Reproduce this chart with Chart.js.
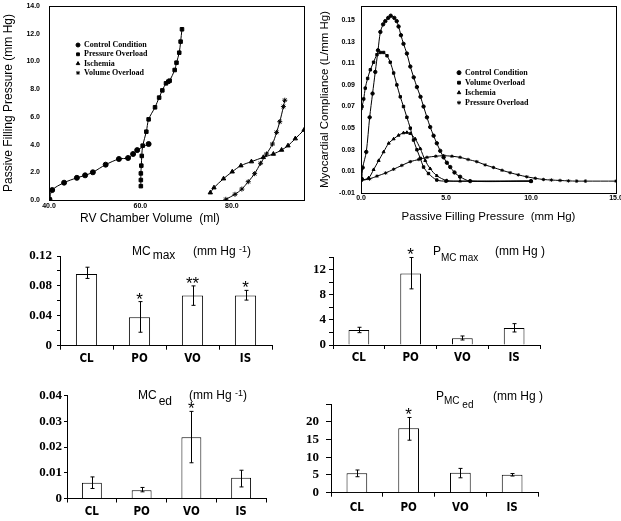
<!DOCTYPE html>
<html>
<head>
<meta charset="utf-8">
<script src="https://cdn.jsdelivr.net/npm/chart.js"></script>
<style>
  body { margin: 0; background: #fff; width: 621px; height: 521px; position: relative; overflow: hidden; font-family: "Liberation Sans", Arial, sans-serif; }
  canvas { position: absolute; }
  .lbl { position: absolute; font-size: 12px; line-height: 14px; white-space: pre; color: #000; }
  .lbl span { position: relative; }
</style>
</head>
<body>
<canvas id="pvChart" width="310" height="232" style="left:0;top:0"></canvas>
<canvas id="mcChart" width="311" height="232" style="left:310px;top:0"></canvas>
<canvas id="mcMaxChart" width="300" height="144" style="left:0;top:236px"></canvas>
<canvas id="pmcMaxChart" width="311" height="144" style="left:310px;top:236px"></canvas>
<canvas id="mcEdChart" width="298" height="136" style="left:0;top:385px"></canvas>
<canvas id="pmcEdChart" width="323" height="136" style="left:298px;top:385px"></canvas>

<div class="lbl" style="left:80px;top:211px">RV Chamber Volume  (ml)</div>

<div class="lbl" style="left:132px;top:244px">MC<span style="top:4px;margin-left:2px">max</span></div>
<div class="lbl" style="left:193px;top:244px">(mm Hg <span style="font-size:9px;top:-3px">-1</span>)</div>

<div class="lbl" style="left:433px;top:244px">P<span style="font-size:10px;top:6px">MC max</span></div>
<div class="lbl" style="left:495px;top:244px">(mm Hg )</div>

<div class="lbl" style="left:138px;top:388px">MC<span style="top:6px;margin-left:2px">ed</span></div>
<div class="lbl" style="left:189px;top:388px">(mm Hg <span style="font-size:9px;top:-3px">-1</span>)</div>

<div class="lbl" style="left:436px;top:389px">P<span style="font-size:10px;top:4px">MC <span style="top:4px">ed</span></span></div>
<div class="lbl" style="left:493px;top:389px">(mm Hg )</div>

<script>
// ---- top left: RV pressure-volume points [volume ml, pressure mm Hg]
const pvControl = [[40.1,0.05],[40.7,0.72],[43.3,1.25],[46.1,1.6],[47.9,1.78],[49.6,2.0],[52.4,2.55],[55.3,2.96],[57.3,3.03],[58.4,3.32],[59.3,3.6],[61.8,4.04]];
const pvPressure = [[60.1,1.0],[60.1,1.44],[60.1,1.92],[60.2,2.48],[60.3,3.18],[60.5,3.92],[61.3,4.93],[61.8,5.82],[63.2,6.69],[64.1,7.39],[64.8,7.91],[65.6,8.42],[66.1,8.54],[66.4,8.61],[67.5,9.38],[67.9,9.91],[68.5,10.63],[68.8,11.43],[69.1,12.32]];
const pvIschemia = [[75.3,0.53],[76.1,0.89],[78.2,1.54],[80.1,2.04],[82.0,2.48],[84.3,2.77],[86.9,3.08],[89.1,3.32],[90.9,3.61],[92.3,3.92],[93.9,4.43],[95.8,5.05]];
const pvVolume = [[78.7,0.05],[80.7,0.41],[82.2,0.79],[83.6,1.32],[85.0,1.9],[86.3,2.65],[87.6,3.32],[88.9,4.04],[89.8,4.88],[90.5,5.65],[91.3,6.74],[91.6,7.2]];
const pvXTicks = [40, 60, 80];
const pvYTicks = [0, 2, 4, 6, 8, 10, 12, 14];

// ---- top right: myocardial compliance vs passive filling pressure [mm Hg, L/mm Hg]
const mcControl = [[0.05,0.003],[0.1,0.0135],[0.31,0.028],[0.51,0.06],[0.68,0.082],[0.84,0.102],[1.0,0.122],[1.14,0.139],[1.3,0.146],[1.43,0.149],[1.6,0.152],[1.75,0.154],[1.96,0.152],[2.1,0.149],[2.21,0.144],[2.35,0.136],[2.5,0.128],[2.7,0.119],[2.9,0.107],[3.1,0.097],[3.29,0.088],[3.5,0.079],[3.68,0.07],[3.88,0.06],[4.07,0.051],[4.27,0.043],[4.46,0.036],[4.66,0.029],[4.86,0.023],[5.05,0.018],[5.25,0.014],[5.5,0.009],[5.83,0.005],[6.42,0.001],[10,0.001]];
const mcVolume = [[0.0,0.068],[0.06,0.07],[0.16,0.077],[0.25,0.087],[0.39,0.096],[0.55,0.104],[0.74,0.111],[0.94,0.118],[1.14,0.12],[1.33,0.12],[1.53,0.117],[1.72,0.111],[1.92,0.101],[2.11,0.09],[2.31,0.079],[2.5,0.07],[2.7,0.06],[2.9,0.05],[3.09,0.039],[3.29,0.03],[3.49,0.022],[3.68,0.014],[3.97,0.008],[4.46,0.002],[5.0,0.001],[10,0.001]];
const mcIschemia = [[0.0,0.0016],[0.45,0.004],[0.74,0.0116],[1.04,0.02],[1.33,0.028],[1.63,0.036],[1.92,0.04],[2.21,0.0434],[2.5,0.0456],[2.7,0.046],[2.9,0.045],[3.19,0.04],[3.49,0.031],[3.78,0.02],[4.07,0.0125],[4.46,0.006],[5.05,0.0015],[5.83,0.001],[10,0.001]];
const mcPressure = [[0.0,0.0016],[0.5,0.003],[0.94,0.0056],[1.45,0.0085],[1.92,0.012],[2.4,0.0155],[2.9,0.019],[3.4,0.021],[3.88,0.023],[4.4,0.024],[4.86,0.0245],[5.35,0.024],[5.83,0.023],[6.3,0.021],[6.81,0.019],[7.3,0.016],[7.79,0.0136],[8.3,0.011],[8.77,0.0088],[9.25,0.0068],[9.75,0.005],[10.25,0.0036],[10.73,0.0025],[11.2,0.002],[11.71,0.0016],[12.2,0.0012],[12.69,0.001],[13.2,0.001],[15,0.001]];
const mcXTicks = [0, 5, 10, 15];
const mcYTicks = [-0.01, 0.01, 0.03, 0.05, 0.07, 0.09, 0.11, 0.13, 0.15];

// ---- bar panels
const groups = ['CL', 'PO', 'VO', 'IS'];

const mcMax = [0.096, 0.038, 0.067, 0.067];
const mcMaxLow = [0.090, 0.018, 0.054, 0.061];
const mcMaxHigh = [0.105, 0.059, 0.080, 0.074];
const mcMaxStars = ['', '*', '**', '*'];
const mcMaxTicks = [0, 0.02, 0.04, 0.06, 0.08, 0.10, 0.12];
const mcMaxLabels = ['0', '', '0.04', '', '0.08', '', '0.12'];

const pmcMax = [2.4, 11.4, 1.07, 2.72];
const pmcMaxLow = [1.97, 8.96, 0.8, 2.08];
const pmcMaxHigh = [2.83, 13.97, 1.44, 3.41];
const pmcMaxStars = ['', '*', '', ''];
const pmcMaxTicks = [0, 2, 4, 6, 8, 10, 12, 14];
const pmcMaxLabels = ['0', '', '4', '', '8', '', '12', ''];

const mcEd = [0.0061, 0.0032, 0.0238, 0.0081];
const mcEdLow = [0.0039, 0.0026, 0.0139, 0.0045];
const mcEdHigh = [0.0084, 0.0043, 0.0339, 0.011];
const mcEdStars = ['', '', '*', ''];
const mcEdTicks = [0, 0.01, 0.02, 0.03, 0.04];
const mcEdLabels = ['0', '0.01', '0.02', '0.03', '0.04'];

const pmcEd = [5.45, 18.2, 5.63, 5.07];
const pmcEdLow = [4.5, 14.8, 4.2, 4.7];
const pmcEdHigh = [6.4, 21.2, 6.85, 5.4];
const pmcEdStars = ['', '*', '', ''];
const pmcEdTicks = [0, 5, 10, 15, 20, 25];
const pmcEdLabels = ['0', '5', '10', '15', '20', ''];

Chart.defaults.animation = false;
Chart.defaults.color = '#000';
Chart.defaults.font.family = '"Liberation Sans", Arial, sans-serif';
Chart.defaults.plugins.legend.display = false;
Chart.defaults.plugins.tooltip.enabled = false;

const SANS = '"Liberation Sans", Arial, sans-serif';
const SERIF = '"Liberation Serif", "Times New Roman", serif';
const tinyFont = { family: SANS, size: 7, weight: 'bold' };
const numFont = { family: SERIF, size: 13, weight: 'bold' };
const catFont = { family: '"DejaVu Sans Condensed", "DejaVu Sans", sans-serif', size: 11.5, weight: 'bold' };

function fixedScale(size, horizontal) {
    return s => {
        if (horizontal) { s.height = size; s.paddingLeft = 0; s.paddingRight = 0; }
        else { s.width = size; s.paddingTop = 0; s.paddingBottom = 0; }
    };
}

function setTicks(values) {
    return s => { s.ticks = values.map(v => ({ value: v })); };
}

function drawMark(ctx, style, r, x, y) {
    if (Chart.helpers && Chart.helpers.drawPoint) {
        Chart.helpers.drawPoint(ctx, { pointStyle: style, radius: r, rotation: 0, borderWidth: 1 }, x, y);
    } else {
        ctx.beginPath(); ctx.arc(x, y, r, 0, Math.PI * 2); ctx.fill();
    }
}

// box round the plot area of the curve panels
const frameBox = {
    id: 'frameBox',
    afterDraw(chart) {
        const a = chart.chartArea, ctx = chart.ctx;
        ctx.save();
        ctx.strokeStyle = '#000';
        ctx.lineWidth = 1;
        ctx.strokeRect(Math.round(a.left) + 0.5, Math.round(a.top) + 0.5, Math.round(a.width), Math.round(a.height));
        ctx.restore();
    }
};

// legend inside the plot, one row per dataset
const pointLegend = {
    id: 'pointLegend',
    afterDatasetsDraw(chart, args, opts) {
        const ctx = chart.ctx;
        ctx.save();
        ctx.fillStyle = '#000';
        ctx.strokeStyle = '#000';
        ctx.font = 'bold 8px ' + SERIF;
        ctx.textBaseline = 'middle';
        chart.data.datasets.forEach((ds, i) => {
            const y = opts.y + i * opts.gap;
            drawMark(ctx, ds.pointStyle, 2, opts.x, y);
            ctx.fillText(ds.label, opts.x + 6, y);
        });
        ctx.restore();
    }
};

// error bars and significance stars on the bar panels
const errorBars = {
    id: 'errorBars',
    afterDatasetsDraw(chart, args, opts) {
        if (!opts.low) return;
        const ctx = chart.ctx, y = chart.scales.y;
        ctx.save();
        ctx.strokeStyle = '#000';
        ctx.fillStyle = '#000';
        ctx.lineWidth = 1;
        chart.getDatasetMeta(0).data.forEach((bar, i) => {
            const x = Math.round(bar.x) + 0.5;
            const top = y.getPixelForValue(opts.high[i]);
            const bot = y.getPixelForValue(opts.low[i]);
            ctx.beginPath();
            ctx.moveTo(x, top); ctx.lineTo(x, bot);
            ctx.moveTo(x - 2, top); ctx.lineTo(x + 2, top);
            ctx.moveTo(x - 2, bot); ctx.lineTo(x + 2, bot);
            ctx.stroke();
            if (opts.stars[i]) {
                ctx.font = '17px ' + SANS;
                ctx.textAlign = 'center';
                ctx.textBaseline = 'alphabetic';
                ctx.fillText(opts.stars[i], bar.x, top + 3);
            }
        });
        ctx.restore();
    }
};

function curveSet(label, points, style, r) {
    return {
        label,
        data: points.map(p => ({ x: p[0], y: p[1] })),
        showLine: true,
        tension: 0.3,
        borderColor: '#000',
        borderWidth: 1,
        backgroundColor: '#000',
        pointStyle: style,
        pointRadius: r,
        pointBorderWidth: 1,
        pointBackgroundColor: '#000',
        pointBorderColor: '#000'
    };
}

new Chart(document.getElementById('pvChart'), {
    type: 'scatter',
    data: {
        datasets: [
            curveSet('Control Condition', pvControl, 'circle', 2.5),
            curveSet('Pressure Overload', pvPressure, 'rect', 2.5),
            curveSet('Ischemia', pvIschemia, 'triangle', 2.5),
            curveSet('Volume Overload', pvVolume, 'star', 2.5)
        ]
    },
    options: {
        responsive: false,
        layout: { padding: { top: 6, right: 6, left: 0, bottom: 0 } },
        plugins: { pointLegend: { x: 78, y: 45, gap: 9.3 } },
        scales: {
            x: {
                type: 'linear', min: 40, max: 95.8,
                afterBuildTicks: setTicks(pvXTicks),
                grid: { display: false, drawTicks: false },
                border: { display: false },
                ticks: { font: tinyFont, padding: 2, autoSkip: false, maxRotation: 0, callback: v => v.toFixed(1) },
                afterFit: fixedScale(32, true)
            },
            y: {
                min: 0, max: 14,
                afterBuildTicks: setTicks(pvYTicks),
                grid: { display: false, drawTicks: false },
                border: { display: false },
                ticks: { font: tinyFont, padding: 9, autoSkip: false, callback: v => v.toFixed(1) },
                title: { display: true, text: 'Passive Filling Pressure (mm Hg)', font: { family: SANS, size: 12 }, padding: { top: 1, bottom: 0 } },
                afterFit: fixedScale(49, false)
            }
        }
    },
    plugins: [frameBox, pointLegend]
});

new Chart(document.getElementById('mcChart'), {
    type: 'scatter',
    data: {
        datasets: [
            curveSet('Control Condition', mcControl, 'circle', 1.7),
            curveSet('Volume Overload', mcVolume, 'rect', 1.7),
            curveSet('Ischemia', mcIschemia, 'triangle', 1.7),
            curveSet('Pressure Overload', mcPressure, 'star', 1.7)
        ]
    },
    options: {
        responsive: false,
        layout: { padding: { top: 6, right: 5, left: 0, bottom: 0 } },
        plugins: { pointLegend: { x: 149, y: 72.7, gap: 10 } },
        scales: {
            x: {
                type: 'linear', min: 0, max: 15,
                afterBuildTicks: setTicks(mcXTicks),
                grid: { display: false, drawTicks: false },
                border: { display: false },
                ticks: { font: tinyFont, padding: 1, autoSkip: false, maxRotation: 0, callback: v => v.toFixed(1) },
                title: { display: true, text: 'Passive Filling Pressure  (mm Hg)', font: { family: SANS, size: 11.5 }, padding: { top: 0, bottom: 8 } },
                afterFit: fixedScale(39, true)
            },
            y: {
                min: -0.01, max: 0.163,
                afterBuildTicks: setTicks(mcYTicks),
                grid: { display: false, drawTicks: false },
                border: { display: false },
                ticks: { font: tinyFont, padding: 6, autoSkip: false, callback: v => v.toFixed(2) },
                title: { display: true, text: 'Myocardial Compliance (L/mm Hg)', font: { family: SANS, size: 11.5 }, padding: { top: 8, bottom: 0 } },
                afterFit: fixedScale(51, false)
            }
        }
    },
    plugins: [frameBox, pointLegend]
});

function barChart(id, values, low, high, stars, yTicks, yLabels, box) {
    new Chart(document.getElementById(id), {
        type: 'bar',
        data: {
            labels: groups,
            datasets: [{ data: values, backgroundColor: '#fff', borderColor: '#000', borderWidth: 1, categoryPercentage: 1, barPercentage: 0.4 }]
        },
        options: {
            responsive: false,
            layout: { padding: { top: box.top, right: box.right, left: 0, bottom: 0 } },
            plugins: { errorBars: { low, high, stars } },
            scales: {
                x: {
                    grid: { drawOnChartArea: false, tickLength: 4, color: '#000' },
                    border: { color: '#000' },
                    ticks: { font: catFont, padding: box.xPad, autoSkip: false, maxRotation: 0 },
                    afterFit: fixedScale(box.xH, true)
                },
                y: {
                    min: 0, max: yTicks[yTicks.length - 1],
                    afterBuildTicks: setTicks(yTicks),
                    grid: { drawOnChartArea: false, tickLength: box.tick, color: '#000' },
                    border: { color: '#000' },
                    ticks: { font: numFont, padding: box.yPad, autoSkip: false, callback: (v, i) => yLabels[i] },
                    afterFit: fixedScale(box.yW, false)
                }
            }
        },
        plugins: [errorBars]
    });
}

barChart('mcMaxChart', mcMax, mcMaxLow, mcMaxHigh, mcMaxStars, mcMaxTicks, mcMaxLabels,
    { top: 20, right: 28, yW: 60, xH: 34.3, tick: 3, yPad: 5, xPad: 2 });
barChart('pmcMaxChart', pmcMax, pmcMaxLow, pmcMaxHigh, pmcMaxStars, pmcMaxTicks, pmcMaxLabels,
    { top: 21.3, right: 81, yW: 23, xH: 35, tick: 4, yPad: 3, xPad: 2.4 });
barChart('mcEdChart', mcEd, mcEdLow, mcEdHigh, mcEdStars, mcEdTicks, mcEdLabels,
    { top: 10.7, right: 32, yW: 67, xH: 22.5, tick: 3, yPad: 2, xPad: 2.3 });
barChart('pmcEdChart', pmcEd, pmcEdLow, pmcEdHigh, pmcEdStars, pmcEdTicks, pmcEdLabels,
    { top: 19, right: 83, yW: 33, xH: 28.3, tick: 5, yPad: 7, xPad: 4.7 });
</script>
</body>
</html>
